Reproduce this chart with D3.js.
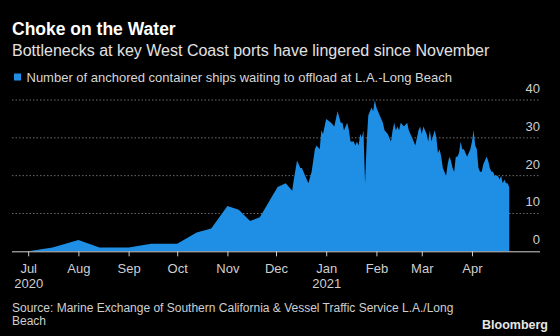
<!DOCTYPE html>
<html>
<head>
<meta charset="utf-8">
<script src="https://cdn.jsdelivr.net/npm/d3@7"></script>
<style>
  html, body { margin: 0; padding: 0; background: #000; }
  svg { display: block; font-family: "Liberation Sans", Arial, sans-serif; }
</style>
</head>
<body>
<svg id="chart" width="560" height="336"></svg>
<script>
// Anchored container ships waiting off L.A.-Long Beach
const dates = [
  '2020-07-01', '2020-07-16', '2020-08-01', '2020-08-14', '2020-09-01', '2020-09-15',
  '2020-10-01', '2020-10-13', '2020-10-22', '2020-11-01', '2020-11-08', '2020-11-15',
  '2020-11-21', '2020-12-02', '2020-12-07', '2020-12-09', '2020-12-11', '2020-12-12',
  '2020-12-14', '2020-12-16', '2020-12-17', '2020-12-19', '2020-12-21', '2020-12-23',
  '2020-12-25', '2020-12-26', '2020-12-28', '2020-12-29', '2020-12-30', '2021-01-01',
  '2021-01-04', '2021-01-06', '2021-01-08', '2021-01-10', '2021-01-11', '2021-01-12',
  '2021-01-14', '2021-01-15', '2021-01-16', '2021-01-18', '2021-01-19', '2021-01-20',
  '2021-01-21', '2021-01-22', '2021-01-23', '2021-01-24', '2021-01-25', '2021-01-26',
  '2021-01-27', '2021-01-29', '2021-01-30', '2021-01-31', '2021-02-01', '2021-02-03',
  '2021-02-04', '2021-02-05', '2021-02-06', '2021-02-08', '2021-02-10', '2021-02-11',
  '2021-02-12', '2021-02-13', '2021-02-14', '2021-02-15', '2021-02-16', '2021-02-18',
  '2021-02-20', '2021-02-21', '2021-02-23', '2021-02-24', '2021-02-25', '2021-02-27',
  '2021-02-28', '2021-03-01', '2021-03-02', '2021-03-04', '2021-03-05', '2021-03-06',
  '2021-03-07', '2021-03-09', '2021-03-10', '2021-03-11', '2021-03-12', '2021-03-13',
  '2021-03-14', '2021-03-16', '2021-03-17', '2021-03-18', '2021-03-19', '2021-03-20',
  '2021-03-21', '2021-03-22', '2021-03-23', '2021-03-24', '2021-03-25', '2021-03-26',
  '2021-03-27', '2021-03-28', '2021-03-29', '2021-03-30', '2021-03-31', '2021-04-01',
  '2021-04-02', '2021-04-03', '2021-04-04', '2021-04-05', '2021-04-06', '2021-04-07',
  '2021-04-08', '2021-04-09', '2021-04-10', '2021-04-11', '2021-04-12', '2021-04-13',
  '2021-04-14', '2021-04-15', '2021-04-16', '2021-04-17', '2021-04-18', '2021-04-19',
  '2021-04-20', '2021-04-21', '2021-04-22', '2021-04-23', '2021-04-24'
];
const ships = [
  0, 1, 3, 1, 1, 2,
  2, 5, 6, 12, 11, 8,
  9, 17, 18, 17, 16, 19,
  24, 22, 22, 20, 18, 21,
  27, 28, 27, 32, 31, 35,
  34, 33, 37, 34, 34, 32,
  34, 32, 29, 29, 28, 29,
  28, 31, 30, 32, 18, 29,
  36, 38, 37, 40, 38, 36,
  35, 34, 32, 31, 29, 32,
  34, 32, 33, 32, 34, 33,
  34, 32, 30, 29, 28, 32,
  33, 31, 33, 31, 29, 32,
  29, 32, 30, 26, 27, 25,
  22, 20, 23, 25, 24, 22,
  21, 25, 25, 26, 29, 27,
  27, 26, 25, 26, 27, 29,
  32, 28, 27, 22, 21, 21,
  23, 24, 25, 24, 22, 21,
  21, 20, 20, 20, 19, 20,
  18, 19, 18, 18, 17
];

const yTicks = [0, 10, 20, 30, 40];
const monthTicks = ['2020-07-01', '2020-08-01', '2020-09-01', '2020-10-01', '2020-11-01',
  '2020-12-01', '2021-01-01', '2021-02-01', '2021-03-01', '2021-04-01'];
const monthNames = ['Jul', 'Aug', 'Sep', 'Oct', 'Nov', 'Dec', 'Jan', 'Feb', 'Mar', 'Apr'];
const yearNames = ['2020', '', '', '', '', '', '2021', '', '', ''];

const title = 'Choke on the Water';
const subtitle = 'Bottlenecks at key West Coast ports have lingered since November';
const legendText = 'Number of anchored container ships waiting to offload at L.A.-Long Beach';
const sourceLines = ['Source: Marine Exchange of Southern California & Vessel Traffic Service L.A./Long', 'Beach'];

const parse = d3.timeParse('%Y-%m-%d');
const data = dates.map((d, i) => ({ date: parse(d), value: ships[i] }));

const svg = d3.select('#chart');
const blue = '#1f8fe5';

// schalen
const x = d3.scaleTime()
  .domain([parse('2020-06-21'), parse('2021-05-13')])
  .range([12, 540]);
const y = d3.scaleLinear()
  .domain([0, 40])
  .range([251.3, 100]);

// koppen
svg.append('text')
  .attr('x', 12).attr('y', 34.5)
  .attr('fill', '#fff')
  .style('font-size', '17.5px').style('font-weight', 'bold')
  .text(title);

svg.append('text')
  .attr('x', 12).attr('y', 55.5)
  .attr('fill', '#e2e2e2')
  .style('font-size', '16px')
  .text(subtitle);

// legenda
svg.append('rect')
  .attr('x', 14).attr('y', 73.5)
  .attr('width', 7).attr('height', 7)
  .attr('fill', blue);
svg.append('text')
  .attr('x', 26.5).attr('y', 81.5)
  .attr('fill', '#d6d6d6')
  .style('font-size', '13px')
  .text(legendText);

// stippellijnen en labels rechts
const grid = svg.append('g');
grid.selectAll('line')
  .data(yTicks.filter(d => d > 0))
  .join('line')
  .attr('x1', 12).attr('x2', 540)
  .attr('y1', d => y(d)).attr('y2', d => y(d))
  .attr('stroke', '#6a6a6a')
  .attr('stroke-width', 1)
  .attr('stroke-dasharray', '1.5,2');

grid.selectAll('text')
  .data(yTicks)
  .join('text')
  .attr('x', 540)
  .attr('y', d => y(d) - 7)
  .attr('text-anchor', 'end')
  .attr('fill', '#cfcfcf')
  .style('font-size', '13px')
  .text(d => d);

// het vlak
const area = d3.area()
  .x(d => x(d.date))
  .y0(y(0))
  .y1(d => y(d.value));

svg.append('path')
  .datum(data)
  .attr('d', area)
  .attr('fill', blue);

// x-as
const xAxis = d3.axisBottom(x)
  .tickValues(monthTicks.map(parse))
  .tickSize(5)
  .tickFormat('');

const gx = svg.append('g')
  .attr('transform', `translate(0,${y(0)})`)
  .call(xAxis);
gx.select('.domain').attr('stroke', '#cfcfcf').attr('d', `M12,0.5H540`);
gx.selectAll('.tick line').attr('stroke', '#cfcfcf');

gx.selectAll('.tick').each(function(d, i) {
  const t = d3.select(this).append('text')
    .attr('fill', '#cfcfcf')
    .attr('text-anchor', 'middle')
    .style('font-size', '13px')
    .style('font-family', '"Liberation Sans", Arial, sans-serif');
  t.append('tspan').attr('x', 0).attr('y', 21.5).text(monthNames[i]);
  if (yearNames[i]) t.append('tspan').attr('x', 0).attr('y', 37).text(yearNames[i]);
});

// bron en logo
const src = svg.append('text')
  .attr('fill', '#cfcfcf')
  .style('font-size', '12px');
sourceLines.forEach((line, i) => {
  src.append('tspan').attr('x', 12).attr('y', 311.7 + i * 12.8).text(line);
});

svg.append('text')
  .attr('x', 548).attr('y', 329.3)
  .attr('text-anchor', 'end')
  .attr('fill', '#e6e6e6')
  .style('font-size', '12.5px').style('font-weight', 'bold')
  .text('Bloomberg');
</script>
</body>
</html>
